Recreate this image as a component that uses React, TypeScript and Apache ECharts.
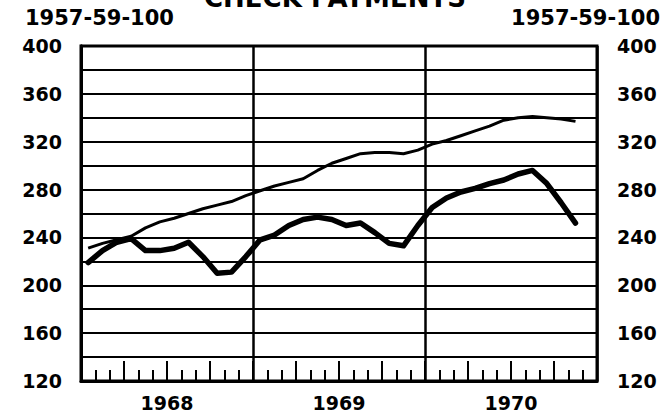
import React, { useEffect, useRef } from "react";
import * as echarts from "echarts";

const years = ["1968", "1969", "1970"];
const yTicks = [120, 160, 200, 240, 280, 320, 360, 400];
// monthly, Jan 1968 .. Nov 1970
const thinLine = [
  231, 235, 238, 241, 248, 253, 256, 260, 264, 267, 270, 275,
  279, 283, 286, 289, 296, 302, 306, 310, 311, 311, 310, 313,
  318, 321, 325, 329, 333, 338, 340, 341, 340, 339, 337,
];
const thickLine = [
  219, 229, 236, 239, 229, 229, 231, 236, 224, 210, 211, 224,
  238, 242, 250, 255, 257, 255, 250, 252, 244, 235, 233, 250,
  265, 273, 278, 281, 285, 288, 293, 296, 285, 269, 252,
];

const FONT = "DejaVu Sans";

export default function App() {
  const ref = useRef<HTMLDivElement>(null);
  useEffect(() => {
    if (!ref.current) return;
    const chart = echarts.init(ref.current, undefined, { renderer: "svg" });
    const toPts = (arr: number[]) => arr.map((v, i) => [i + 0.5, v]);
    const yLabel = {
      show: true,
      color: "#000",
      fontFamily: FONT,
      fontWeight: "bold" as const,
      fontSize: 19,
      formatter: (v: number) => (yTicks.includes(v) ? String(v) : ""),
    };
    chart.setOption({
      animation: false,
      backgroundColor: "#fff",
      grid: {
        left: 81,
        right: 72,
        top: 46,
        bottom: 35,
        show: true,
        borderColor: "#000",
        borderWidth: 3,
        backgroundColor: "transparent",
      },
      graphic: [
        {
          type: "text",
          left: 204,
          top: -15,
          style: {
            text: "CHECK PAYMENTS",
            fontFamily: FONT,
            fontWeight: "bold",
            fontSize: 26,
            fill: "#000",
          },
        },
        {
          type: "text",
          left: 25,
          top: 7,
          style: {
            text: "1957-59-100",
            fontFamily: FONT,
            fontWeight: "bold",
            fontSize: 21,
            fill: "#000",
          },
        },
        {
          type: "text",
          right: 9,
          top: 7,
          style: {
            text: "1957-59-100",
            fontFamily: FONT,
            fontWeight: "bold",
            fontSize: 21,
            fill: "#000",
          },
        },
      ],
      xAxis: [
        {
          type: "value",
          min: 0,
          max: 36,
          interval: 3,
          axisLine: { show: true, lineStyle: { color: "#000", width: 3 } },
          axisTick: {
            show: true,
            inside: true,
            length: 20,
            lineStyle: { color: "#000", width: 2 },
          },
          minorTick: {
            show: true,
            splitNumber: 3,
            length: 11,
            lineStyle: { color: "#000", width: 2 },
          },
          splitLine: { show: false },
          axisLabel: {
            show: true,
            margin: 12,
            color: "#000",
            fontFamily: FONT,
            fontWeight: "bold",
            fontSize: 19,
            formatter: (v: number) => {
              const k = (v - 6) / 12;
              return Number.isInteger(k) && k >= 0 && k < years.length ? years[k] : "";
            },
          },
        },
        {
          type: "value",
          min: 0,
          max: 36,
          interval: 12,
          position: "bottom",
          axisLine: { show: false },
          axisTick: { show: false },
          axisLabel: { show: false },
          splitLine: { show: true, lineStyle: { color: "#000", width: 2.5 } },
        },
      ],
      yAxis: [
        {
          type: "value",
          min: 120,
          max: 400,
          interval: 20,
          position: "left",
          axisLine: { show: true, lineStyle: { color: "#000", width: 3 } },
          axisTick: { show: false },
          axisLabel: { ...yLabel, margin: 19 },
          splitLine: { show: true, lineStyle: { color: "#000", width: 2 } },
        },
        {
          type: "value",
          min: 120,
          max: 400,
          interval: 20,
          position: "right",
          axisLine: { show: true, lineStyle: { color: "#000", width: 3 } },
          axisTick: { show: false },
          axisLabel: { ...yLabel, margin: 20 },
          splitLine: { show: false },
        },
      ],
      series: [
        {
          type: "line",
          data: toPts(thinLine),
          symbol: "none",
          lineStyle: { color: "#000", width: 3 },
          z: 5,
        },
        {
          type: "line",
          data: toPts(thickLine),
          symbol: "none",
          lineStyle: { color: "#000", width: 5.5, join: "round", cap: "round" },
          z: 6,
        },
      ],
    });
    return () => chart.dispose();
  }, []);
  return <div ref={ref} style={{ width: 669, height: 416, position: "fixed", left: 0, top: 0 }} />;
}
